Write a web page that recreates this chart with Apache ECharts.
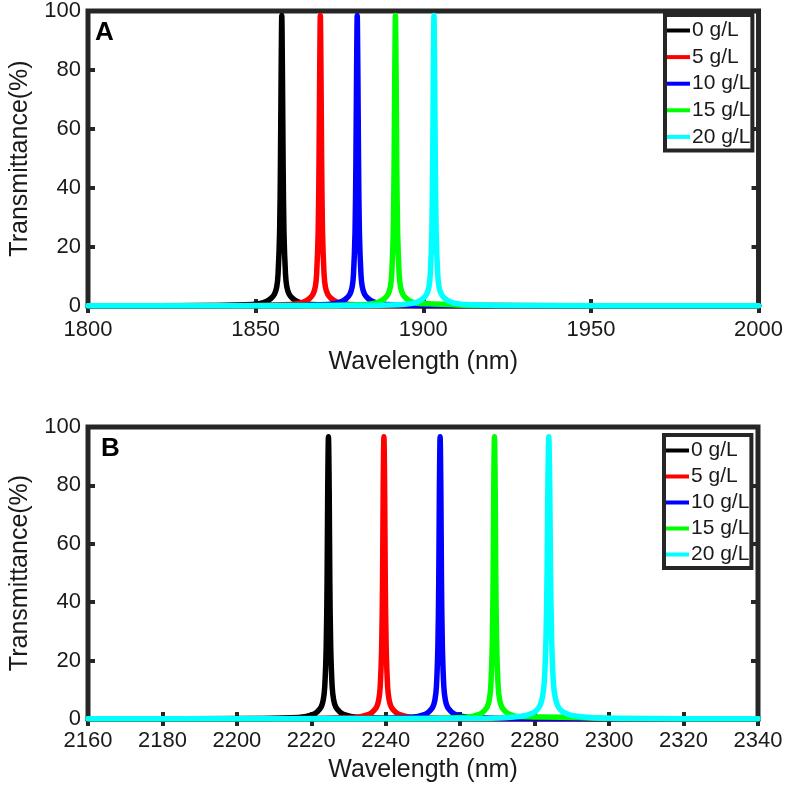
<!DOCTYPE html>
<html>
<head>
<meta charset="utf-8">
<script src="https://cdn.jsdelivr.net/npm/echarts@6/dist/echarts.min.js"></script>
<style>
  html, body { margin: 0; padding: 0; background: #fff; }
  #main { width: 786px; height: 793px; }
</style>
</head>
<body>
<div id="main"></div>
<script>
const seriesNames = ['0 g/L', '5 g/L', '10 g/L', '15 g/L', '20 g/L'];
const lineColors = ['#000000', '#ff0000', '#0000ff', '#00ff00', '#00ffff'];

const yTicks = [0, 20, 40, 60, 80, 100];
const xTicksA = [1800, 1850, 1900, 1950, 2000];
const xTicksB = [2160, 2180, 2200, 2220, 2240, 2260, 2280, 2300, 2320, 2340];

// panel A: [wavelength (nm), transmittance (%)]
const a0 = [[1800,0.05],[1835.8,0.15],[1846.8,0.4],[1851.3,0.9],[1853.3,1.6],[1854.5,2.5],[1855.6,4],[1856.3,6.5],[1856.7,11],[1857.15,25],[1857.4,48],[1857.6,78],[1857.8,98.5],[1858.0,78],[1858.2,48],[1858.45,25],[1858.9,11],[1859.3,6.5],[1860.0,4],[1861.1,2.5],[1862.3,1.6],[1864.3,0.9],[1868.8,0.4],[1879.8,0.15],[2000,0.05]];
const a5 = [[1800,0.05],[1847.3,0.15],[1858.3,0.4],[1862.8,0.9],[1864.8,1.6],[1866.0,2.5],[1867.1,4],[1867.8,6.5],[1868.2,11],[1868.65,25],[1868.9,48],[1869.1,78],[1869.3,98.5],[1869.5,78],[1869.7,48],[1869.95,25],[1870.4,11],[1870.8,6.5],[1871.5,4],[1872.6,2.5],[1873.8,1.6],[1875.8,0.9],[1880.3,0.4],[1891.3,0.15],[2000,0.05]];
const a10 = [[1800,0.05],[1858.3,0.15],[1869.3,0.4],[1873.8,0.9],[1875.8,1.6],[1877.0,2.5],[1878.1,4],[1878.8,6.5],[1879.2,11],[1879.65,25],[1879.9,48],[1880.1,78],[1880.3,98.5],[1880.5,78],[1880.7,48],[1880.95,25],[1881.4,11],[1881.8,6.5],[1882.5,4],[1883.6,2.5],[1884.8,1.6],[1886.8,0.9],[1891.3,0.4],[1902.3,0.15],[2000,0.05]];
const a15 = [[1800,0.05],[1869.7,0.15],[1880.7,0.4],[1885.2,0.9],[1887.2,1.6],[1888.4,2.5],[1889.5,4],[1890.2,6.5],[1890.6,11],[1891.05,25],[1891.3,48],[1891.5,78],[1891.7,98.5],[1891.9,78],[1892.1,48],[1892.35,25],[1892.8,11],[1893.2,6.5],[1893.9,4],[1895.0,2.5],[1896.2,1.6],[1898.2,0.9],[1903.0,0.7],[1908.0,0.5],[1914.7,0.15],[2000,0.05]];
const a20 = [[1800,0.05],[1881.2,0.15],[1892.2,0.4],[1896.7,0.9],[1898.7,1.6],[1899.9,2.5],[1901.0,4],[1901.7,6.5],[1902.1,11],[1902.55,25],[1902.8,48],[1903.0,78],[1903.2,98.5],[1903.4,78],[1903.6,48],[1903.85,25],[1904.3,11],[1904.7,6.5],[1905.4,4],[1906.5,2.5],[1907.7,1.6],[1909.7,0.9],[1914.2,0.4],[1925.2,0.15],[2000,0.05]];

// panel B
const b0 = [[2160,0.05],[2204.6,0.15],[2214.6,0.4],[2218.6,0.9],[2220.6,1.6],[2221.6,2.5],[2222.6,4],[2223.2,6.5],[2223.6,11],[2224.0,25],[2224.24,48],[2224.4,78],[2224.6,96.7],[2224.8,78],[2224.96,48],[2225.2,25],[2225.6,11],[2226.0,6.5],[2226.6,4],[2227.6,2.5],[2228.6,1.6],[2230.6,0.9],[2234.6,0.4],[2244.6,0.15],[2340,0.05]];
const b5 = [[2160,0.05],[2219.5,0.15],[2229.5,0.4],[2233.5,0.9],[2235.5,1.6],[2236.5,2.5],[2237.5,4],[2238.1,6.5],[2238.5,11],[2238.9,25],[2239.14,48],[2239.3,78],[2239.5,96.7],[2239.7,78],[2239.86,48],[2240.1,25],[2240.5,11],[2240.9,6.5],[2241.5,4],[2242.5,2.5],[2243.5,1.6],[2245.5,0.9],[2249.5,0.4],[2259.5,0.15],[2340,0.05]];
const b10 = [[2160,0.05],[2234.6,0.15],[2244.6,0.4],[2248.6,0.9],[2250.6,1.6],[2251.6,2.5],[2252.6,4],[2253.2,6.5],[2253.6,11],[2254.0,25],[2254.24,48],[2254.4,78],[2254.6,96.7],[2254.8,78],[2254.96,48],[2255.2,25],[2255.6,11],[2256.0,6.5],[2256.6,4],[2257.6,2.5],[2258.6,1.6],[2260.6,0.9],[2264.6,0.4],[2274.6,0.15],[2340,0.05]];
const b15 = [[2160,0.05],[2249.2,0.15],[2259.2,0.4],[2263.2,0.9],[2265.2,1.6],[2266.2,2.5],[2267.2,4],[2267.8,6.5],[2268.2,11],[2268.6,25],[2268.84,48],[2269.0,78],[2269.2,96.7],[2269.4,78],[2269.56,48],[2269.8,25],[2270.2,11],[2270.6,6.5],[2271.2,4],[2272.2,2.5],[2273.2,1.6],[2275.2,0.9],[2282.0,0.7],[2292.0,0.5],[2300.0,0.2],[2340,0.05]];
const b20 = [[2160,0.05],[2261.8,0.15],[2271.8,0.45],[2276.8,1.0],[2278.8,1.7],[2280.3,2.7],[2281.4,4.5],[2282.1,7.5],[2282.6,13],[2283.05,28],[2283.35,52],[2283.55,80],[2283.8,96.7],[2284.05,80],[2284.25,52],[2284.55,28],[2285.0,13],[2285.5,7.5],[2286.2,4.5],[2287.3,2.7],[2288.8,1.7],[2290.8,1.0],[2295.8,0.45],[2305.8,0.15],[2340,0.05]];

const panelA = [a0, a5, a10, a15, a20];
const panelB = [b0, b5, b10, b15, b20];

const frameColor = '#262626';
const font = "'Liberation Sans', Arial, sans-serif";

function xAxisPair(gridIndex, ticks, nameGap, labelMargin) {
  const step = ticks[1] - ticks[0];
  const base = {
    type: 'value', gridIndex: gridIndex,
    min: ticks[0], max: ticks[ticks.length - 1], interval: step,
    axisLine: { show: false },
    axisTick: { inside: true, length: 7, lineStyle: { color: frameColor, width: 4 } },
    splitLine: { show: false }
  };
  return [
    Object.assign({}, base, {
      position: 'bottom',
      name: 'Wavelength (nm)', nameLocation: 'middle', nameGap: nameGap,
      nameTextStyle: { fontFamily: font, fontSize: 25, color: '#1a1a1a' },
      axisLabel: { fontFamily: font, fontSize: 22, color: '#1a1a1a', margin: labelMargin,
        formatter: function (v) { return String(v); } }
    }),
    Object.assign({}, base, { position: 'top', axisLabel: { show: false } })
  ];
}

function yAxisPair(gridIndex) {
  const base = {
    type: 'value', gridIndex: gridIndex,
    min: yTicks[0], max: yTicks[yTicks.length - 1], interval: yTicks[1] - yTicks[0],
    axisLine: { show: false },
    axisTick: { inside: true, length: 7, lineStyle: { color: frameColor, width: 4 } },
    splitLine: { show: false }
  };
  return [
    Object.assign({}, base, {
      position: 'left',
      name: 'Transmittance(%)', nameLocation: 'middle', nameGap: 55,
      nameTextStyle: { fontFamily: font, fontSize: 25, color: '#1a1a1a' },
      axisLabel: { fontFamily: font, fontSize: 22, color: '#1a1a1a', margin: 7 }
    }),
    Object.assign({}, base, { position: 'right', axisLabel: { show: false } })
  ];
}

function legendAt(left, top, gap) {
  return {
    orient: 'vertical', left: left, top: top,
    data: seriesNames,
    icon: 'rect', itemWidth: 23, itemHeight: 4, itemGap: gap,
    padding: [5, 2, 3, 2],
    borderColor: frameColor, borderWidth: 4,
    backgroundColor: '#fff',
    textStyle: { fontFamily: font, fontSize: 21, lineHeight: 20, color: '#1a1a1a', padding: [0, 0, 0, -3] },
    selectedMode: false
  };
}

function makeLine(name, pts, color, axisIdx) {
  return {
    name: name, type: 'line', xAxisIndex: axisIdx, yAxisIndex: axisIdx,
    data: pts, showSymbol: false, symbol: 'none',
    smooth: 0.3,
    lineStyle: { color: color, width: 5.5, join: 'round', cap: 'round' },
    itemStyle: { color: color }
  };
}

const series = [];
panelA.forEach(function (pts, i) { series.push(makeLine(seriesNames[i], pts, lineColors[i], 0)); });
panelB.forEach(function (pts, i) { series.push(makeLine(seriesNames[i], pts, lineColors[i], 2)); });

const chart = echarts.init(document.getElementById('main'), null, { renderer: 'canvas' });
chart.setOption({
  animation: false,
  backgroundColor: '#fff',
  grid: [
    { left: 82, width: 677, top: 9, height: 297, show: true, borderColor: frameColor, borderWidth: 5 },
    { left: 82, width: 676, top: 427, height: 292, show: true, borderColor: frameColor, borderWidth: 5 }
  ],
  xAxis: xAxisPair(0, xTicksA, 44, 13).concat(xAxisPair(1, xTicksB, 39, 11)),
  yAxis: yAxisPair(0).concat(yAxisPair(1)),
  legend: [legendAt(665, 15, 5.6), legendAt(664, 435, 5.0)],
  graphic: [
    { type: 'text', left: 95, top: 20, style: { text: 'A', font: 'bold 26px ' + font, fill: '#000' } },
    { type: 'text', left: 101, top: 436, style: { text: 'B', font: 'bold 26px ' + font, fill: '#000' } }
  ],
  series: series
});
</script>
</body>
</html>
